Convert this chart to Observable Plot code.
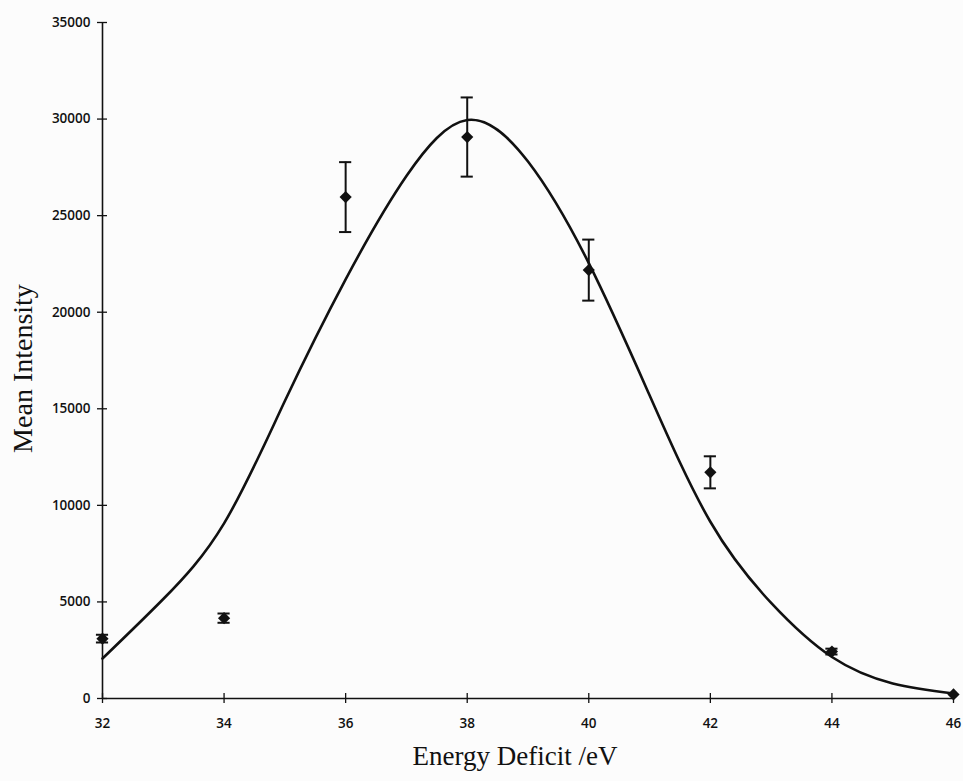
<!DOCTYPE html>
<html>
<head>
<meta charset="utf-8">
<script src="https://cdn.jsdelivr.net/npm/d3@7"></script>
<script src="https://cdn.jsdelivr.net/npm/@observablehq/plot@0.6"></script>
<style>
  html, body { margin: 0; padding: 0; background: #fcfcfc; }
  #chart svg { display: block; background: #fcfcfc; }
</style>
</head>
<body>
<div id="chart"></div>
<script>
// Measured points (Energy deficit in eV, mean intensity, ± error)
const energy = [32, 34, 36, 38, 40, 42, 44, 46];
const intensity = [3100, 4160, 25960, 29070, 22180, 11710, 2430, 210];
const errorSize = [200, 240, 1810, 2050, 1580, 830, 150, 0];

// Smooth fitted curve
const fitEnergy = [32, 33, 34, 35, 36, 37, 38, 39, 40, 41, 42, 43, 44, 45, 46];
const fitIntensity = [2070, 5150, 9070, 15400, 21700, 27050, 29950, 27800, 22540, 15700, 9150, 4950, 2150, 780, 260];

// Axis ticks
const xTicks = [32, 34, 36, 38, 40, 42, 44, 46];
const yTicks = [0, 5000, 10000, 15000, 20000, 25000, 30000, 35000];

const xTitle = "Energy Deficit /eV";
const yTitle = "Mean Intensity";

const points = energy.map((e, i) => ({x: e, y: intensity[i], err: errorSize[i]}));
const bars = points.filter(d => d.err > 0);
const fit = fitEnergy.map((e, i) => ({x: e, y: fitIntensity[i]}));

const tickFont = "'Open Sans', sans-serif";
const serif = "'Liberation Serif', 'Times New Roman', serif";

const chart = Plot.plot({
  width: 963,
  height: 781,
  marginLeft: 102,
  marginRight: 10,
  marginTop: 22,
  marginBottom: 83,
  style: {background: "#fcfcfc", color: "#111"},
  x: {domain: [32, 46], axis: null},
  y: {domain: [0, 35000], axis: null},
  marks: [
    // axis lines
    Plot.ruleX([32], {stroke: "#111", strokeWidth: 1.6}),
    Plot.ruleY([0], {stroke: "#111", strokeWidth: 1.6}),
    // crossing ticks
    Plot.axisY(yTicks, {ticks: yTicks, tickSize: 10, dx: 5, tickFormat: () => "", stroke: "#111", strokeWidth: 1.3, label: null}),
    Plot.axisX(xTicks, {ticks: xTicks, tickSize: 10, dy: -5, tickFormat: () => "", stroke: "#111", strokeWidth: 1.3, label: null}),
    // tick labels
    Plot.axisY(yTicks, {ticks: yTicks, tickSize: 0, tickPadding: 12, tickFormat: d => String(d), fontSize: 13.5, fontFamily: tickFont, fontWeight: 600, fill: "#111", label: null}),
    Plot.axisX(xTicks, {ticks: xTicks, tickSize: 0, tickPadding: 20, tickFormat: d => String(d), fontSize: 13.5, fontFamily: tickFont, fontWeight: 600, fill: "#111", label: null}),
    // titles
    Plot.text([xTitle], {frameAnchor: "bottom", textAnchor: "middle", dx: -13, dy: 66, fontSize: 27, fontFamily: serif, fill: "#111"}),
    Plot.text([yTitle], {frameAnchor: "left", textAnchor: "middle", dx: -79, dy: 8, rotate: -90, fontSize: 28, fontFamily: serif, fill: "#111"}),
    // fitted curve
    Plot.line(fit, {x: "x", y: "y", curve: "natural", stroke: "#111", strokeWidth: 2.6}),
    // error bars
    Plot.ruleX(bars, {x: "x", y1: d => d.y - d.err, y2: d => d.y + d.err, stroke: "#111", strokeWidth: 2}),
    Plot.ruleY(bars, {y: d => d.y + d.err, x1: d => d.x - 0.1, x2: d => d.x + 0.1, stroke: "#111", strokeWidth: 2}),
    Plot.ruleY(bars, {y: d => d.y - d.err, x1: d => d.x - 0.1, x2: d => d.x + 0.1, stroke: "#111", strokeWidth: 2}),
    // data markers
    Plot.dot(points, {x: "x", y: "y", symbol: "diamond2", r: 5.5, fill: "#111", stroke: "none"})
  ]
});

document.getElementById("chart").appendChild(chart);
</script>
</body>
</html>
